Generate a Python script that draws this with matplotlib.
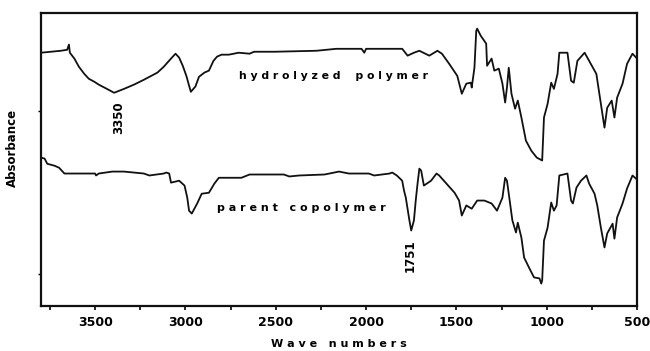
import matplotlib
matplotlib.use('Agg')
import matplotlib.pyplot as plt
import numpy as np

# Data (wavenumber in cm-1, absorbance in arbitrary units)
wn_hydrolyzed = [3800, 3690, 3655, 3645, 3640, 3615, 3590, 3560, 3535, 3505, 3480, 3435,
                 3405, 3395, 3340, 3285, 3230, 3155, 3120, 3080, 3055, 3035, 3015, 2995,
                 2980, 2970, 2945, 2925, 2895, 2870, 2845, 2825, 2800, 2760, 2705, 2645,
                 2620, 2505, 2275, 2165, 2025, 2010, 2000, 1800, 1770, 1735, 1705, 1650,
                 1605, 1580, 1540, 1495, 1470, 1445, 1420, 1415, 1400, 1390, 1385, 1365,
                 1335, 1330, 1305, 1290, 1265, 1245, 1230, 1220, 1210, 1195, 1175, 1160,
                 1140, 1115, 1085, 1055, 1025, 1015, 995, 975, 960, 940, 930, 885, 865,
                 850, 830, 790, 765, 725, 700, 680, 665, 640, 625, 610, 580, 555, 525, 505]
abs_hydrolyzed = [1.178, 1.184, 1.187, 1.203, 1.178, 1.160, 1.135, 1.113, 1.098, 1.089,
                  1.080, 1.067, 1.058, 1.055, 1.067, 1.080, 1.095, 1.117, 1.135, 1.160,
                  1.175, 1.163, 1.138, 1.107, 1.077, 1.058, 1.074, 1.104, 1.117, 1.123,
                  1.153, 1.166, 1.172, 1.172, 1.178, 1.175, 1.181, 1.181, 1.184, 1.190,
                  1.190, 1.178, 1.190, 1.190, 1.169, 1.178, 1.184, 1.169, 1.184, 1.175,
                  1.144, 1.107, 1.052, 1.083, 1.086, 1.071, 1.132, 1.245, 1.252, 1.230,
                  1.206, 1.138, 1.160, 1.123, 1.129, 1.083, 1.025, 1.071, 1.132, 1.052,
                  1.006, 1.031, 0.979, 0.908, 0.877, 0.856, 0.847, 0.979, 1.021, 1.086,
                  1.067, 1.113, 1.178, 1.178, 1.092, 1.086, 1.153, 1.178, 1.153, 1.113,
                  1.021, 0.948, 1.009, 1.031, 0.979, 1.040, 1.083, 1.144, 1.175, 1.163]

wn_parent = [3800, 3780, 3765, 3725, 3700, 3670, 3500, 3495, 3480, 3405, 3340, 3230,
             3200, 3120, 3105, 3090, 3080, 3035, 3005, 2990, 2980, 2965, 2935, 2910,
             2870, 2840, 2815, 2730, 2690, 2645, 2455, 2425, 2370, 2230, 2150, 2095,
             1985, 1955, 1870, 1855, 1830, 1800, 1790, 1780, 1760, 1750, 1735, 1725,
             1715, 1705, 1695, 1680, 1640, 1610, 1595, 1555, 1510, 1485, 1470, 1445,
             1415, 1385, 1345, 1305, 1275, 1245, 1230, 1220, 1210, 1190, 1170, 1160,
             1140, 1125, 1095, 1070, 1040, 1030, 1025, 1015, 995, 975, 960, 945, 930,
             885, 865, 855, 835, 810, 780, 765, 735, 720, 700, 680, 665, 635, 625, 610,
             580, 555, 525, 505]
abs_parent = [0.856, 0.853, 0.837, 0.831, 0.825, 0.807, 0.807, 0.801, 0.807, 0.813,
              0.813, 0.807, 0.801, 0.807, 0.810, 0.807, 0.779, 0.785, 0.770, 0.733,
              0.693, 0.684, 0.715, 0.745, 0.748, 0.776, 0.794, 0.794, 0.794, 0.804,
              0.804, 0.798, 0.801, 0.804, 0.813, 0.807, 0.807, 0.801, 0.807, 0.810,
              0.801, 0.785, 0.755, 0.733, 0.663, 0.632, 0.663, 0.724, 0.776, 0.822,
              0.816, 0.770, 0.785, 0.807, 0.801, 0.776, 0.748, 0.724, 0.678, 0.709,
              0.699, 0.724, 0.724, 0.715, 0.693, 0.733, 0.794, 0.785, 0.745, 0.663,
              0.626, 0.656, 0.610, 0.549, 0.515, 0.488, 0.485, 0.469, 0.479, 0.601,
              0.641, 0.718, 0.693, 0.709, 0.801, 0.807, 0.724, 0.715, 0.764, 0.785,
              0.801, 0.776, 0.745, 0.709, 0.641, 0.580, 0.623, 0.653, 0.607, 0.672,
              0.715, 0.761, 0.801, 0.791]

x_ticks = [3500, 3000, 2500, 2000, 1500, 1000, 500]
y_ticks = [0.5, 1.0]

plt.rcParams['font.family'] = 'DejaVu Sans'
plt.rcParams['font.weight'] = 'bold'

fig = plt.figure(figsize=(6.5, 3.51), dpi=100)
ax = fig.add_axes([0.063, 0.128, 0.917, 0.835])

ax.plot(wn_hydrolyzed, abs_hydrolyzed, color='#111111', linewidth=1.3)
ax.plot(wn_parent, abs_parent, color='#111111', linewidth=1.3)

ax.set_xlim(3800, 500)
ax.set_ylim(0.4, 1.3)
ax.set_xticks(x_ticks)
ax.set_xticks(np.arange(3750, 500, -500), minor=True)
ax.set_yticks(y_ticks)
ax.set_yticklabels([])
ax.tick_params(axis='x', which='both', direction='out', length=3, width=1.2,
               labelsize=9, pad=4)
ax.tick_params(axis='y', direction='out', length=2, width=1)
for lbl in ax.get_xticklabels():
    lbl.set_fontweight('bold')

for sp in ax.spines.values():
    sp.set_linewidth(1.6)
    sp.set_color('#111111')

ax.set_xlabel('W a v e   n u m b e r s', fontsize=8, fontweight='bold', labelpad=7)
ax.set_ylabel('Absorbance', fontsize=8.5, fontweight='bold')
ax.yaxis.set_label_coords(-0.037, 0.54)

ax.text(2182, 1.107, 'h y d r o l y z e d    p o l y m e r', fontsize=7.8,
        fontweight='bold', ha='center', va='center')
ax.text(2359, 0.702, 'p a r e n t   c o p o l y m e r', fontsize=8,
        fontweight='bold', ha='center', va='center')
ax.text(3372, 0.979, '3350', fontsize=8.5, fontweight='bold', rotation=90,
        ha='center', va='center')
ax.text(1756, 0.555, '1751', fontsize=8.5, fontweight='bold', rotation=90,
        ha='center', va='center')

fig.savefig('out.png', dpi=100)
